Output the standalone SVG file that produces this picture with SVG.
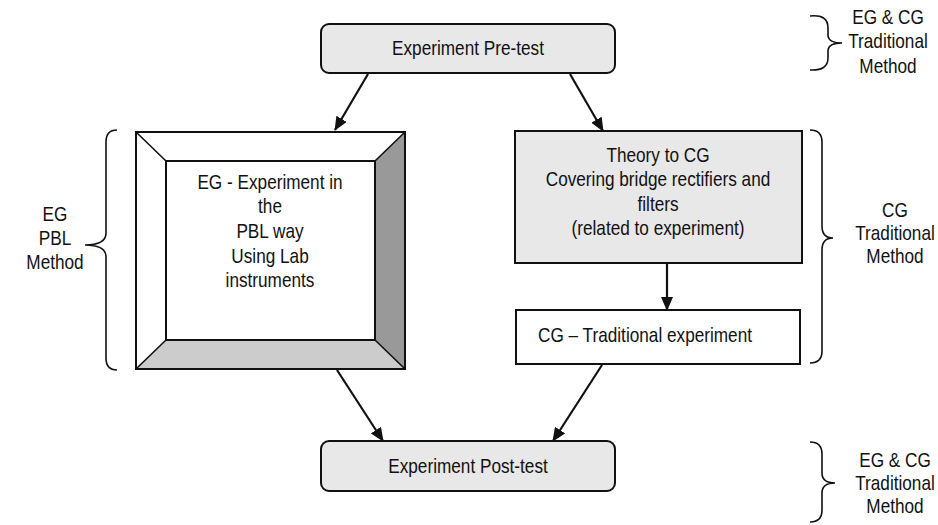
<svg xmlns="http://www.w3.org/2000/svg" width="938" height="525" viewBox="0 0 938 525">
<defs>
<style>
text{font-family:"Liberation Sans",Arial,sans-serif;font-size:20px;fill:#111;}
.c{text-anchor:middle;}
.box{stroke:#111;stroke-width:2;}
.conn{stroke:#111;stroke-width:2.2;fill:none;}
.brace{stroke:#111;stroke-width:1.6;fill:none;}
</style>
<marker id="ah" viewBox="0 0 14 12" refX="13" refY="6" markerWidth="14" markerHeight="12" markerUnits="userSpaceOnUse" orient="auto">
<path d="M0,0 L14,6 L0,12 Z" fill="#111"/>
</marker>
</defs>
<rect width="938" height="525" fill="#fff"/>

<g id="pretest">
<rect class="box" x="321" y="24" width="294" height="49" rx="8" fill="#e8e8e8"/>
<text class="c" transform="translate(468,55) scale(0.86,1)">Experiment Pre-test</text>
</g>

<g id="eg-experiment">
<rect x="136" y="132" width="269" height="237" fill="#fff"/>
<polygon points="375,161 405,132 405,369 375,340" fill="#999"/>
<polygon points="166,340 375,340 405,369 136,369" fill="#ccc"/>
<rect x="136" y="132" width="269" height="237" fill="none" stroke="#111" stroke-width="2"/>
<rect x="166" y="161" width="209" height="179" fill="#fff" stroke="#111" stroke-width="2"/>
<path d="M136,132 L166,161 M405,132 L375,161 M136,369 L166,340 M405,369 L375,340" stroke="#111" stroke-width="1.6"/>
<text class="c" transform="translate(270,189) scale(0.86,1)">EG - Experiment in</text>
<text class="c" transform="translate(270,213) scale(0.86,1)">the</text>
<text class="c" transform="translate(270,238) scale(0.86,1)">PBL way</text>
<text class="c" transform="translate(270,263) scale(0.86,1)">Using Lab</text>
<text class="c" transform="translate(270,287) scale(0.86,1)">instruments</text>
</g>

<g id="theory">
<rect class="box" x="515" y="131" width="287" height="132" fill="#e8e8e8"/>
<text class="c" transform="translate(658,162) scale(0.86,1)">Theory to CG</text>
<text class="c" transform="translate(658,186) scale(0.86,1)">Covering bridge rectifiers and</text>
<text class="c" transform="translate(658,211) scale(0.86,1)">filters</text>
<text class="c" transform="translate(658,235) scale(0.86,1)">(related to experiment)</text>
</g>

<g id="cg-experiment">
<rect class="box" x="516" y="310" width="284" height="54" fill="#fff"/>
<text transform="translate(538,342) scale(0.86,1)">CG – Traditional experiment</text>
</g>

<g id="posttest">
<rect class="box" x="321" y="441" width="294" height="50" rx="8" fill="#e8e8e8"/>
<text class="c" transform="translate(468,473) scale(0.86,1)">Experiment Post-test</text>
</g>

<g id="connectors">
<line class="conn" x1="368" y1="74" x2="335" y2="130" marker-end="url(#ah)"/>
<line class="conn" x1="570" y1="74" x2="603" y2="131" marker-end="url(#ah)"/>
<line class="conn" x1="667" y1="264" x2="667" y2="310" marker-end="url(#ah)"/>
<line class="conn" x1="337" y1="370" x2="383" y2="441" marker-end="url(#ah)"/>
<line class="conn" x1="602" y1="365" x2="553" y2="441" marker-end="url(#ah)"/>
</g>

<g id="brace-top-right">
<path class="brace" d="M810,16 Q828,14 828,28 L828,36 Q829,43 842,43 Q829,43 828,50 L828,58 Q828,71 810,70"/>
<text class="c" transform="translate(888,24) scale(0.86,1)">EG &amp; CG</text>
<text class="c" transform="translate(888,48) scale(0.86,1)">Traditional</text>
<text class="c" transform="translate(888,73) scale(0.86,1)">Method</text>
</g>

<g id="brace-left">
<path class="brace" d="M117,130 Q106,130 106,142 L106,233 Q106,245 85,245 Q106,245 106,257 L106,358 Q106,370 117,370"/>
<text class="c" transform="translate(55,221) scale(0.86,1)">EG</text>
<text class="c" transform="translate(55,245) scale(0.86,1)">PBL</text>
<text class="c" transform="translate(55,269) scale(0.86,1)">Method</text>
</g>

<g id="brace-cg">
<path class="brace" d="M810,130 Q822,130 822,142 L822,226 Q822,238 833,238 Q822,238 822,250 L822,351 Q822,363 810,363"/>
<text class="c" transform="translate(895,217) scale(0.86,1)">CG</text>
<text class="c" transform="translate(895,240) scale(0.86,1)">Traditional</text>
<text class="c" transform="translate(895,263) scale(0.86,1)">Method</text>
</g>

<g id="brace-bottom-right">
<path class="brace" d="M810,442 Q822,442 822,454 L822,473 Q822,483 835,483 Q822,483 822,493 L822,510 Q822,522 810,522"/>
<text class="c" transform="translate(895,467) scale(0.86,1)">EG &amp; CG</text>
<text class="c" transform="translate(895,490) scale(0.86,1)">Traditional</text>
<text class="c" transform="translate(895,513) scale(0.86,1)">Method</text>
</g>
</svg>
